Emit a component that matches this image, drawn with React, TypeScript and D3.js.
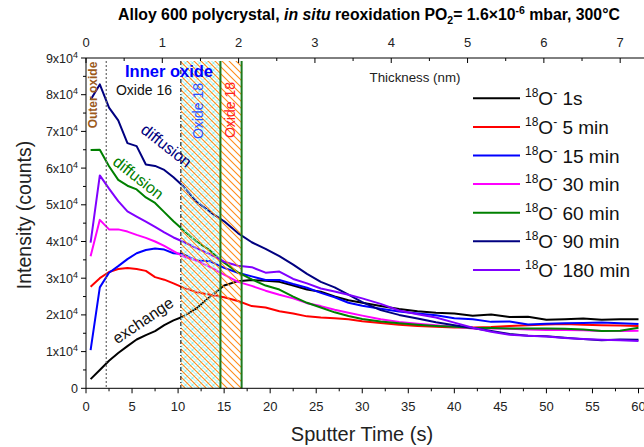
import React from "react";
import * as d3 from "d3";

const time = [0.5, 1.5, 2.5, 3.5, 4.5, 5.5, 6.5, 7.5, 8.5, 9.5, 10.5, 12, 13.5, 15, 16.5, 18, 19.5, 21, 22.5, 24, 25.5, 27, 28.5, 30, 32, 34, 36, 38, 40, 42, 44, 46, 48, 50, 52, 54, 56, 58, 60];

// intensities in units of 1e4 counts
const s1s = [0.25, 0.5, 0.75, 0.96, 1.15, 1.33, 1.45, 1.56, 1.72, 1.85, 1.95, 2.18, 2.5, 2.8, 2.92, 2.95, 2.93, 2.9, 2.8, 2.69, 2.63, 2.5, 2.4, 2.33, 2.24, 2.16, 2.1, 2.06, 2.04, 1.98, 2.01, 1.94, 1.95, 1.87, 1.88, 1.9, 1.87, 1.88, 1.88];
const s5 = [2.77, 3.0, 3.17, 3.25, 3.28, 3.25, 3.2, 3.03, 2.96, 2.86, 2.75, 2.62, 2.55, 2.48, 2.38, 2.24, 2.2, 2.1, 2.04, 1.96, 1.93, 1.91, 1.88, 1.83, 1.78, 1.73, 1.7, 1.68, 1.66, 1.66, 1.67, 1.7, 1.72, 1.74, 1.75, 1.73, 1.72, 1.71, 1.7];
const s15 = [1.04, 2.75, 3.15, 3.33, 3.52, 3.68, 3.77, 3.81, 3.78, 3.68, 3.66, 3.48, 3.46, 3.28, 3.15, 3.05, 2.95, 2.95, 2.84, 2.74, 2.6, 2.48, 2.33, 2.25, 2.17, 2.09, 2.04, 1.99, 1.91, 1.88, 1.81, 1.82, 1.74, 1.76, 1.77, 1.78, 1.79, 1.77, 1.75];
const s30 = [3.6, 4.59, 4.33, 4.33, 4.27, 4.18, 4.1, 4.0, 3.88, 3.74, 3.6, 3.48, 3.3, 3.1, 2.9, 2.79, 2.66, 2.55, 2.45, 2.32, 2.24, 2.14, 2.06, 1.98, 1.88, 1.81, 1.76, 1.72, 1.68, 1.63, 1.63, 1.62, 1.6, 1.59, 1.59, 1.58, 1.56, 1.56, 1.57];
const s60 = [6.49, 6.5, 6.05, 5.68, 5.52, 5.42, 5.2, 5.05, 4.8, 4.55, 4.33, 4.0, 3.75, 3.42, 3.16, 2.97, 2.8, 2.69, 2.5, 2.33, 2.2, 2.07, 1.97, 1.89, 1.82, 1.77, 1.73, 1.7, 1.68, 1.65, 1.64, 1.63, 1.63, 1.63, 1.62, 1.6, 1.56, 1.57, 1.65];
const s90 = [7.86, 8.28, 7.65, 7.3, 6.68, 6.6, 6.1, 6.06, 5.95, 5.75, 5.52, 5.09, 4.8, 4.55, 4.23, 3.98, 3.8, 3.6, 3.37, 3.12, 2.9, 2.75, 2.55, 2.35, 2.13, 2.0, 1.9, 1.8, 1.72, 1.64, 1.56, 1.48, 1.43, 1.42, 1.38, 1.34, 1.31, 1.33, 1.32];
const s180 = [3.97, 5.8, 5.44, 5.1, 4.82, 4.68, 4.54, 4.4, 4.25, 4.11, 4.0, 3.82, 3.65, 3.45, 3.34, 3.3, 3.15, 3.18, 2.98, 2.86, 2.72, 2.64, 2.55, 2.45, 2.3, 2.12, 2.02, 1.93, 1.79, 1.65, 1.54, 1.46, 1.43, 1.41, 1.37, 1.34, 1.32, 1.31, 1.29];

const seriesLabels = ["1s", "5 min", "15 min", "30 min", "60 min", "90 min", "180 min"];
const seriesValues = [s1s, s5, s15, s30, s60, s90, s180];
const seriesColors = ["#000000", "#ff0000", "#0000ff", "#ff00ff", "#008000", "#000080", "#8000ff"];

const xTicks = [0, 5, 10, 15, 20, 25, 30, 35, 40, 45, 50, 55, 60];
const yTicks = [0, 1, 2, 3, 4, 5, 6, 7, 8, 9];
const topTicks = [0, 1, 2, 3, 4, 5, 6, 7];

// region boundaries (sputter time, s)
const outerOxideEnd = 2.2;
const innerOxideStart = 10.3;
const oxide18aEnd = 14.6;
const oxide18bEnd = 16.9;

const FONT = "'Liberation Sans', Arial, sans-serif";

export default function App() {
  const left = 86, right = 638.5, top = 58, bottom = 388.3;
  const x = d3.scaleLinear().domain([0, 60]).range([left, right]);
  const y = d3.scaleLinear().domain([0, 9]).range([bottom, top]);
  const xTop = d3.scaleLinear().domain([0, 7.24]).range([left, right]);
  const line = d3.line<[number, number]>().x(d => x(d[0])).y(d => y(d[1]));

  const minorX = d3.range(2.5, 60, 5);
  const minorY = d3.range(0.5, 9, 1);
  const minorTop = d3.range(0.5, 7.24, 0.5).filter(v => Math.abs(v - Math.round(v)) > 0.01);

  return (
    <svg width={644} height={447} style={{ position: "absolute", left: 0, top: 0, background: "#fff" }} fontFamily={FONT}>
      <defs>
        <pattern id="orangeHatch" patternUnits="userSpaceOnUse" width={7} height={7}>
          <path d="M-1,-1 L8,8 M-1,6 L1,8 M6,-1 L8,1" stroke="#ff8c1a" strokeWidth={1.1} />
        </pattern>
        <pattern id="cyanHatch" patternUnits="userSpaceOnUse" width={7} height={7} patternTransform="translate(3.5,0)">
          <path d="M-1,8 L8,-1 M-1,1 L1,-1 M6,8 L8,6 M-1,-1 L8,8 M-1,6 L1,8 M6,-1 L8,1" stroke="#8ff0f0" strokeWidth={1} />
        </pattern>
      </defs>
      <rect width={644} height={447} fill="#fff" />

      {/* title */}
      <text x={369} y={20} textAnchor="middle" fontSize={15.8} fontWeight="bold">
        <tspan>Alloy 600 polycrystal, </tspan>
        <tspan fontStyle="italic">in situ</tspan>
        <tspan> reoxidation PO</tspan>
        <tspan fontSize={10.5} dy={4}>2</tspan>
        <tspan dy={-4}>= 1.6×10</tspan>
        <tspan fontSize={10.5} dy={-6}>-6</tspan>
        <tspan dy={6}> mbar, 300°C</tspan>
      </text>

      {/* data lines */}
      {seriesValues.map((vals, i) => (
        <path key={i} d={line(time.map((t, j) => [t, vals[j]]) as [number, number][]) || ""}
          fill="none" stroke={seriesColors[i]} strokeWidth={2} strokeLinejoin="round" />
      ))}

      {/* hatched regions */}
      <rect x={x(innerOxideStart)} y={top + 3} width={x(oxide18aEnd) - x(innerOxideStart)} height={bottom - top - 3} fill="url(#cyanHatch)" />
      <rect x={x(innerOxideStart)} y={top + 3} width={x(oxide18bEnd) - x(innerOxideStart)} height={bottom - top - 3} fill="url(#orangeHatch)" />

      {/* vertical markers */}
      <line x1={x(outerOxideEnd)} x2={x(outerOxideEnd)} y1={top + 3} y2={bottom} stroke="#666" strokeWidth={1.2} strokeDasharray="2,2" />
      <line x1={x(innerOxideStart)} x2={x(innerOxideStart)} y1={top + 3} y2={bottom} stroke="#000" strokeWidth={1} strokeDasharray="4,2,1,2" />
      <line x1={x(oxide18aEnd)} x2={x(oxide18aEnd)} y1={top + 3} y2={bottom} stroke="#1d7a1d" strokeWidth={2} />
      <line x1={x(oxide18bEnd)} x2={x(oxide18bEnd)} y1={top + 3} y2={bottom} stroke="#1d7a1d" strokeWidth={2} />

      {/* axes */}
      <line x1={left} x2={644} y1={top} y2={top} stroke="#000" strokeWidth={1} />
      <line x1={left} x2={644} y1={bottom} y2={bottom} stroke="#000" strokeWidth={1} />
      <line x1={left} x2={left} y1={top} y2={bottom} stroke="#000" strokeWidth={1} />

      {xTicks.map(t => (
        <g key={"xt" + t}>
          <line x1={x(t)} x2={x(t)} y1={bottom} y2={bottom + 5} stroke="#000" />
          <text x={x(t)} y={411} textAnchor="middle" fontSize={13} fill="#222">{t}</text>
        </g>
      ))}
      {minorX.map(t => (
        <line key={"xm" + t} x1={x(t)} x2={x(t)} y1={bottom} y2={bottom + 3} stroke="#000" />
      ))}
      {yTicks.map(v => (
        <g key={"yt" + v}>
          <line x1={left - 5} x2={left} y1={y(v)} y2={y(v)} stroke="#000" />
          {v === 0 ? (
            <text x={78} y={y(v) + 4.5} textAnchor="end" fontSize={12.5} fill="#222">0</text>
          ) : (
            <text x={78} y={y(v) + 4.5} textAnchor="end" fontSize={12.5} fill="#222">
              <tspan>{v}x10</tspan>
              <tspan fontSize={9} dy={-5}>4</tspan>
            </text>
          )}
        </g>
      ))}
      {minorY.map(v => (
        <line key={"ym" + v} x1={left - 3} x2={left} y1={y(v)} y2={y(v)} stroke="#000" />
      ))}
      {topTicks.map(t => (
        <g key={"tt" + t}>
          <line x1={xTop(t)} x2={xTop(t)} y1={top} y2={top + 5} stroke="#000" />
          <text x={xTop(t)} y={47} textAnchor="middle" fontSize={13} fill="#222">{t}</text>
        </g>
      ))}
      {minorTop.map(t => (
        <line key={"tm" + t} x1={xTop(t)} x2={xTop(t)} y1={top} y2={top + 3} stroke="#000" />
      ))}

      {/* axis titles */}
      <text transform="translate(31,215) rotate(-90)" textAnchor="middle" fontSize={19.5} fill="#222">Intensity (counts)</text>
      <text x={362} y={441} textAnchor="middle" fontSize={20} fill="#222">Sputter Time (s)</text>
      <text x={415} y={82} textAnchor="middle" fontSize={13.3} fill="#222">Thickness (nm)</text>

      {/* annotations */}
      <text transform="translate(97,95) rotate(-90)" textAnchor="middle" fontSize={12} fontWeight="bold" fill="#9c5a1c">Outer oxide</text>
      <text x={169} y={77} textAnchor="middle" fontSize={16.5} fontWeight="bold" fill="#0000ff">Inner oxide</text>
      <text x={144} y={95} textAnchor="middle" fontSize={14} fill="#111">Oxide 16</text>
      <text transform="translate(203,111) rotate(-90)" textAnchor="middle" fontSize={14} fill="#3050ff">Oxide 18</text>
      <text transform="translate(235,110) rotate(-90)" textAnchor="middle" fontSize={14} fill="#ff2020">Oxide 18</text>
      <text transform="translate(163,150) rotate(38)" textAnchor="middle" fontSize={16} fill="#000080">diffusion</text>
      <text transform="translate(135,182) rotate(38)" textAnchor="middle" fontSize={16} fill="#008000">diffusion</text>
      <text transform="translate(146,325) rotate(-34)" textAnchor="middle" fontSize={16} fill="#111">exchange</text>

      {/* legend */}
      {seriesLabels.map((lab, i) => {
        const ly = 98.3 + i * 28.6;
        return (
          <g key={"lg" + i}>
            <line x1={473} x2={520} y1={ly} y2={ly} stroke={seriesColors[i]} strokeWidth={2} />
            <text x={525} y={ly + 7} fontSize={19} fill="#111">
              <tspan fontSize={12} dy={-8}>18</tspan>
              <tspan dy={8}>O</tspan>
              <tspan fontSize={12} dy={-8}>-</tspan>
              <tspan dy={8}> {lab}</tspan>
            </text>
          </g>
        );
      })}
    </svg>
  );
}
